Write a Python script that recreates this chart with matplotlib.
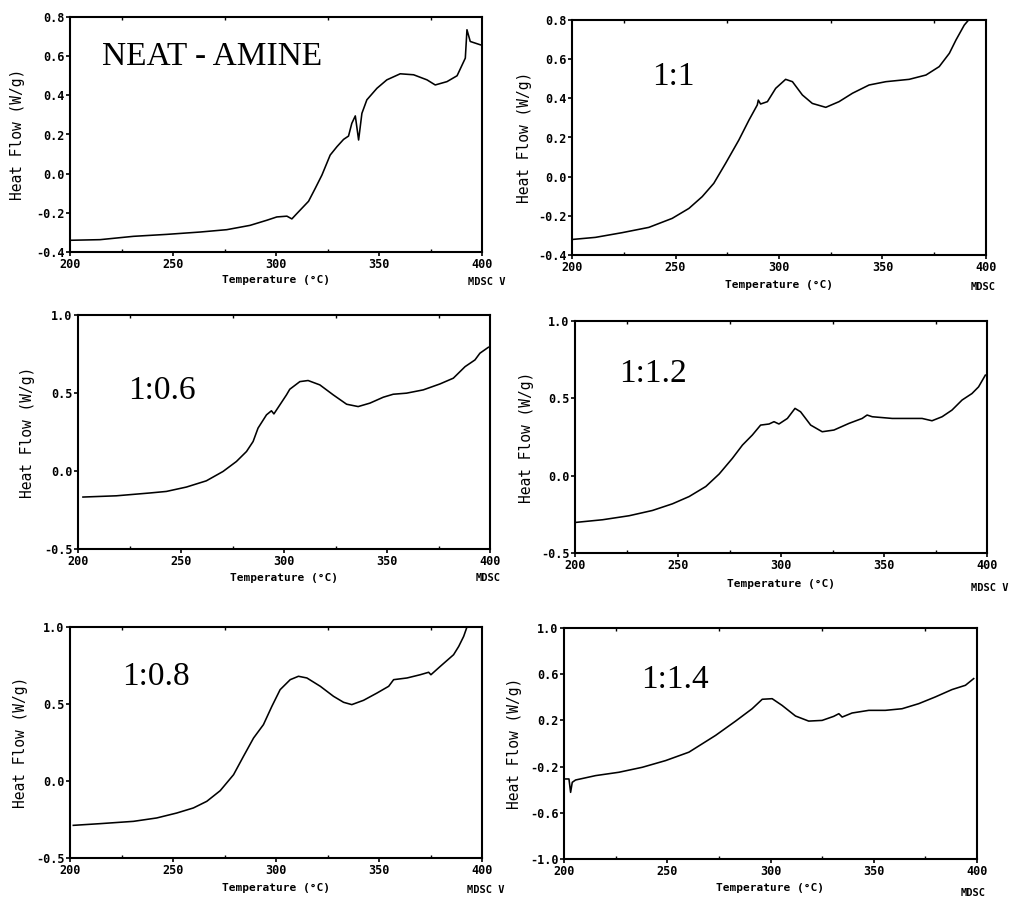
import numpy as np
import matplotlib
matplotlib.use("Agg")
import matplotlib.pyplot as plt
from matplotlib.ticker import FormatStrFormatter, MultipleLocator

# --- data ---
temp_neat = [200.8, 214.6, 230.8, 247.0, 263.2, 276.1, 287.4, 295.5, 300.4, 305.3,
             307.7, 310.1, 315.8, 319.0, 322.3, 326.3, 329.6, 332.8, 335.2, 336.8,
             338.5, 340.1, 341.7, 344.1, 349.0, 353.8, 360.3, 366.8, 373.3, 377.3,
             383.0, 387.9, 391.9, 392.7, 394.3, 399.2]
flow_neat = [-0.340, -0.337, -0.320, -0.310, -0.298, -0.286, -0.264, -0.238, -0.221, -0.217,
             -0.231, -0.204, -0.141, -0.076, -0.007, 0.095, 0.138, 0.175, 0.192, 0.257,
             0.295, 0.172, 0.308, 0.377, 0.436, 0.479, 0.510, 0.505, 0.479, 0.453,
             0.470, 0.500, 0.590, 0.735, 0.675, 0.658]

temp_11 = [200.8, 211.3, 224.2, 237.1, 248.4, 256.5, 262.9, 268.5, 274.2, 280.6,
           285.5, 289.5, 290.0, 291.1, 294.4, 298.4, 303.2, 306.5, 311.3, 316.1,
           322.6, 329.0, 335.5, 343.5, 351.6, 362.9, 371.0, 377.4, 382.3, 385.5,
           389.5, 391.6]
flow_11 = [-0.320, -0.310, -0.286, -0.259, -0.213, -0.162, -0.102, -0.034, 0.068, 0.187,
           0.289, 0.366, 0.391, 0.371, 0.383, 0.451, 0.497, 0.485, 0.417, 0.374,
           0.354, 0.383, 0.426, 0.468, 0.485, 0.497, 0.519, 0.562, 0.630, 0.698,
           0.774, 0.800]

temp_106 = [202.4, 218.6, 234.8, 242.9, 252.6, 262.3, 270.4, 276.9, 281.8, 285.0,
            287.4, 291.5, 293.9, 295.1, 298.0, 301.2, 302.8, 307.7, 311.7, 317.4,
            323.9, 330.4, 336.0, 341.7, 348.2, 353.0, 359.5, 367.6, 375.7, 382.2,
            387.9, 392.7, 395.1, 399.2]
flow_106 = [-0.167, -0.159, -0.141, -0.131, -0.103, -0.063, -0.003, 0.061, 0.125, 0.189,
            0.275, 0.360, 0.386, 0.366, 0.424, 0.488, 0.524, 0.573, 0.580, 0.552,
            0.488, 0.428, 0.413, 0.435, 0.473, 0.492, 0.499, 0.520, 0.558, 0.595,
            0.669, 0.712, 0.755, 0.793]

temp_112 = [200.5, 213.4, 226.3, 237.6, 247.3, 255.4, 263.5, 270.0, 276.4, 281.3,
            286.1, 290.1, 294.2, 296.6, 299.0, 303.1, 306.8, 309.5, 314.4, 320.0,
            325.7, 333.0, 339.4, 341.8, 344.3, 354.0, 362.0, 368.5, 373.3, 378.2,
            383.0, 387.9, 392.7, 395.9, 399.2]
flow_112 = [-0.302, -0.285, -0.259, -0.225, -0.182, -0.135, -0.070, 0.011, 0.112, 0.198,
            0.263, 0.327, 0.334, 0.349, 0.334, 0.370, 0.435, 0.413, 0.327, 0.284,
            0.295, 0.338, 0.370, 0.392, 0.381, 0.370, 0.370, 0.370, 0.355, 0.381,
            0.424, 0.489, 0.531, 0.574, 0.650]

temp_108 = [201.6, 214.6, 230.8, 242.1, 251.8, 259.9, 266.4, 272.9, 279.4, 284.2,
            289.1, 293.9, 298.0, 302.0, 306.9, 310.9, 315.0, 321.5, 327.9, 332.8,
            336.8, 342.5, 349.0, 354.7, 357.1, 363.6, 370.0, 374.1, 375.2, 379.8,
            386.2, 388.7, 391.1, 392.7]
flow_108 = [-0.288, -0.277, -0.262, -0.240, -0.208, -0.175, -0.132, -0.063, 0.041, 0.160,
            0.279, 0.366, 0.485, 0.593, 0.658, 0.680, 0.669, 0.615, 0.550, 0.511,
            0.496, 0.524, 0.571, 0.615, 0.658, 0.669, 0.690, 0.706, 0.690, 0.745,
            0.820, 0.874, 0.939, 1.000]

temp_114 = [200.8, 202.4, 203.2, 204.0, 205.6, 215.3, 226.6, 237.9, 249.2, 260.5,
            273.4, 283.1, 291.1, 296.0, 300.8, 305.6, 312.1, 318.5, 325.0, 330.6,
            333.1, 334.7, 339.5, 347.6, 355.6, 363.7, 371.8, 379.8, 387.9, 394.4,
            398.4]
flow_114 = [-0.307, -0.307, -0.423, -0.336, -0.316, -0.278, -0.249, -0.206, -0.148, -0.075,
            0.070, 0.194, 0.301, 0.383, 0.388, 0.330, 0.238, 0.194, 0.200, 0.235,
            0.258, 0.229, 0.264, 0.287, 0.287, 0.301, 0.345, 0.403, 0.467, 0.504,
            0.562]

labels = ["NEAT - AMINE", "1:1", "1:0.6", "1:1.2", "1:0.8", "1:1.4"]
yticks_a = [-0.4, -0.2, 0.0, 0.2, 0.4, 0.6, 0.8]
yticks_b = [-0.5, 0.0, 0.5, 1.0]
yticks_c = [-1.0, -0.6, -0.2, 0.2, 0.6, 1.0]
xticks = [200, 250, 300, 350, 400]

W, H = 1018, 897
mono = "DejaVu Sans Mono"

# panel boxes in pixels: left, right, top, bottom
panels = [
    dict(box=(70, 482, 17, 252), t=temp_neat, f=flow_neat, yt=yticks_a, fmt="%.1f",
         lab=(0.078, 0.83), ylc=-0.109, xlc=-0.098, mdsc=(468, 282, "MDSC V")),
    dict(box=(572, 986, 20, 255), t=temp_11, f=flow_11, yt=yticks_a, fmt="%.1f",
         lab=(0.193, 0.757), ylc=-0.097, xlc=-0.106, mdsc=(971, 287, "MDSC")),
    dict(box=(78, 490, 315, 549), t=temp_106, f=flow_106, yt=yticks_b, fmt="%.1f",
         lab=(0.121, 0.675), ylc=-0.104, xlc=-0.103, mdsc=(476, 578, "MDSC")),
    dict(box=(575, 987, 321, 553), t=temp_112, f=flow_112, yt=yticks_b, fmt="%.1f",
         lab=(0.107, 0.772), ylc=-0.100, xlc=-0.112, mdsc=(971, 588, "MDSC V")),
    dict(box=(70, 482, 627, 858), t=temp_108, f=flow_108, yt=yticks_b, fmt="%.1f",
         lab=(0.126, 0.784), ylc=-0.102, xlc=-0.108, mdsc=(467, 890, "MDSC V")),
    dict(box=(564, 977, 628, 859), t=temp_114, f=flow_114, yt=yticks_c, fmt="%.1f",
         lab=(0.186, 0.775), ylc=-0.102, xlc=-0.104, mdsc=(961, 893, "MDSC")),
]

fig = plt.figure(figsize=(W / 100, H / 100), dpi=100)

for p, name in zip(panels, labels):
    l, r, t, b = p["box"]
    ax = fig.add_axes([l / W, 1 - b / H, (r - l) / W, (b - t) / H])
    ax.plot(p["t"], p["f"], color="black", lw=1.15)
    ax.set_xlim(200, 400)
    ax.set_ylim(p["yt"][0], p["yt"][-1])
    ax.set_xticks(xticks)
    ax.set_yticks(p["yt"])
    ax.yaxis.set_major_formatter(FormatStrFormatter(p["fmt"]))
    ax.xaxis.set_minor_locator(MultipleLocator(25))
    ax.tick_params(axis="both", which="major", length=3, width=1.2, pad=1,
                   labelsize=8.5, direction="out")
    ax.tick_params(axis="x", which="minor", length=2, width=1, direction="in",
                   top=True, bottom=True)
    for lbl in ax.get_xticklabels() + ax.get_yticklabels():
        lbl.set_family(mono)
        lbl.set_weight("bold")
    for s in ax.spines.values():
        s.set_linewidth(1.5)
    ax.set_xlabel("Temperature (°C)", family=mono, weight="bold", fontsize=8)
    ax.xaxis.set_label_coords(0.5, p["xlc"])
    ax.set_ylabel("Heat Flow (W/g)", family=mono, fontsize=10.5)
    ax.yaxis.set_label_coords(p["ylc"], 0.5)
    ax.text(p["lab"][0], p["lab"][1], name, transform=ax.transAxes,
            family="Liberation Serif", fontsize=24, ha="left", va="center")
    mx, my, mt = p["mdsc"]
    fig.text(mx / W, 1 - my / H, mt, family=mono, weight="bold", fontsize=7.5,
             ha="left", va="center")

fig.savefig("out.png", dpi=100)
